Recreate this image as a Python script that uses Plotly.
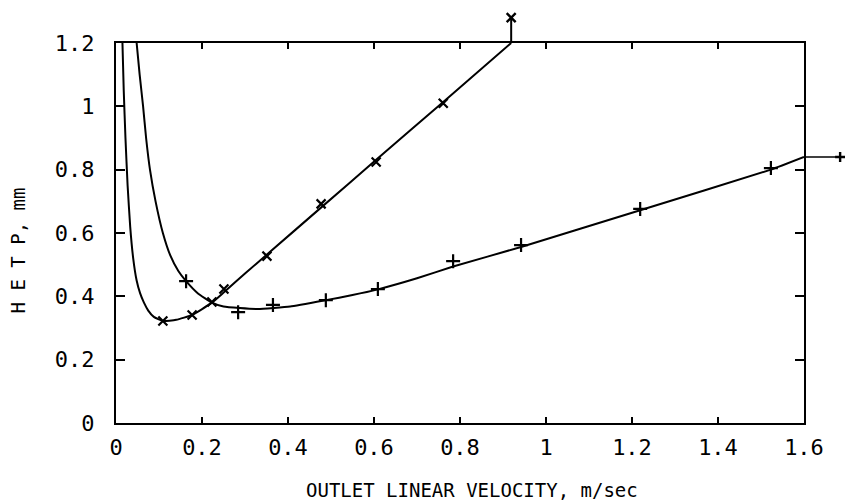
import plotly.graph_objects as go

# ---- data ----
# fitted curve, series 1 (x markers)
fit1_x = [0.015, 0.018, 0.022, 0.027, 0.033, 0.040, 0.048, 0.056, 0.065, 0.075,
          0.088, 0.109, 0.140, 0.177, 0.223, 0.251, 0.300, 0.351, 0.474, 0.605,
          0.761, 0.919]
fit1_y = [1.20, 1.05, 0.90, 0.75, 0.62, 0.52, 0.45, 0.41, 0.38, 0.355,
          0.335, 0.322, 0.326, 0.341, 0.380, 0.413, 0.472, 0.532, 0.677, 0.831,
          1.014, 1.20]
# measured points, series 1
pts1_x = [0.109, 0.177, 0.223, 0.251, 0.351, 0.477, 0.605, 0.761]
pts1_y = [0.322, 0.341, 0.382, 0.423, 0.527, 0.692, 0.824, 1.010]
# off-scale point, series 1
off1_x = [0.919]
off1_y = [1.28]

# fitted curve, series 2 (+ markers)
fit2_x = [0.048, 0.055, 0.063, 0.070, 0.079, 0.092, 0.109, 0.126, 0.145, 0.163,
          0.190, 0.223, 0.250, 0.288, 0.330, 0.405, 0.488, 0.550, 0.609, 0.700,
          0.784, 0.942, 1.219, 1.523, 1.600]
fit2_y = [1.20, 1.10, 1.00, 0.90, 0.80, 0.70, 0.60, 0.53, 0.48, 0.448,
          0.41, 0.38, 0.368, 0.363, 0.360, 0.368, 0.388, 0.404, 0.422, 0.457,
          0.494, 0.556, 0.672, 0.800, 0.840]
# measured points, series 2
pts2_x = [0.163, 0.284, 0.365, 0.488, 0.609, 0.784, 0.942, 1.219, 1.523]
pts2_y = [0.448, 0.350, 0.373, 0.388, 0.423, 0.511, 0.562, 0.676, 0.805]
# off-scale point, series 2
off2_x = [1.684]
off2_y = [0.840]

x_range = [0, 1.6]
y_range = [0, 1.2]
x_ticks = [0, 0.2, 0.4, 0.6, 0.8, 1.0, 1.2, 1.4, 1.6]
x_tick_labels = ["0", "0.2", "0.4", "0.6", "0.8", "1", "1.2", "1.4", "1.6"]
y_ticks = [0, 0.2, 0.4, 0.6, 0.8, 1.0, 1.2]
y_tick_labels = ["0", "0.2", "0.4", "0.6", "0.8", "1", "1.2"]

x_title = "OUTLET LINEAR VELOCITY, m/sec"
y_title = "H E T P, mm"

FONT = "DejaVu Sans Mono"
INK = "black"
W, H = 845, 500
M = dict(l=116, r=41, t=43, b=77)
PLOT_W = W - M["l"] - M["r"]
PLOT_H = H - M["t"] - M["b"]

fig = go.Figure()
line_style = dict(color=INK, width=2, shape="spline", smoothing=0.4)
fig.add_trace(go.Scatter(x=fit1_x, y=fit1_y, mode="lines", line=line_style, hoverinfo="skip"))
fig.add_trace(go.Scatter(x=fit2_x, y=fit2_y, mode="lines", line=line_style, hoverinfo="skip"))

mk1 = dict(symbol="x-thin", size=9, line=dict(color=INK, width=2.2), color=INK)
mk2 = dict(symbol="cross-thin", size=10, line=dict(color=INK, width=2.2), color=INK)
fig.add_trace(go.Scatter(x=pts1_x, y=pts1_y, mode="markers", marker=mk1))
fig.add_trace(go.Scatter(x=pts2_x, y=pts2_y, mode="markers", marker=mk2))


def px(v):
    return (v - x_range[0]) / (x_range[1] - x_range[0])


def py(v):
    return (v - y_range[0]) / (y_range[1] - y_range[0])


def glyph_path(xv, yv, kind, half_px):
    """Marker glyph (x or +) in paper units, for points beyond the axis range."""
    cx, cy = px(xv), py(yv)
    a, b = half_px / PLOT_W, half_px / PLOT_H
    if kind == "x":
        return (f"M {cx - a},{cy - b} L {cx + a},{cy + b} "
                f"M {cx - a},{cy + b} L {cx + a},{cy - b}")
    return (f"M {cx - a},{cy} L {cx + a},{cy} "
            f"M {cx},{cy - b} L {cx},{cy + b}")


shapes = [
    # series 1 leaves the top of the frame and goes to its off-scale point
    dict(type="line", xref="paper", yref="paper",
         x0=px(fit1_x[-1]), y0=py(fit1_y[-1]), x1=px(off1_x[0]), y1=py(off1_y[0]),
         line=dict(color=INK, width=2)),
    dict(type="path", xref="paper", yref="paper",
         path=glyph_path(off1_x[0], off1_y[0], "x", 4.5),
         line=dict(color=INK, width=2.4)),
    # series 2 leaves the right of the frame and goes to its off-scale point
    dict(type="line", xref="paper", yref="paper",
         x0=px(fit2_x[-1]), y0=py(fit2_y[-1]), x1=px(off2_x[0]), y1=py(off2_y[0]),
         line=dict(color=INK, width=1.5)),
    dict(type="path", xref="paper", yref="paper",
         path=glyph_path(off2_x[0], off2_y[0], "+", 5),
         line=dict(color=INK, width=2.4)),
]

axis_common = dict(
    showline=True, linewidth=2, linecolor=INK, mirror="ticks",
    ticks="inside", tickcolor=INK, tickwidth=1.5,
    showgrid=False, zeroline=False,
    tickfont=dict(family=FONT, size=22, color=INK),
)

title_font = dict(family=FONT, size=19, color=INK)
annotations = [
    dict(text=x_title, xref="paper", yref="paper", x=0.517, y=-0.176,
         xanchor="center", yanchor="middle", showarrow=False, font=title_font),
    dict(text=y_title, xref="paper", yref="paper", x=-0.142, y=0.455,
         xanchor="center", yanchor="middle", showarrow=False, textangle=-90,
         font=title_font),
]

fig.update_layout(
    width=W, height=H,
    margin=M,
    paper_bgcolor="white", plot_bgcolor="white",
    showlegend=False,
    shapes=shapes,
    annotations=annotations,
    xaxis=dict(range=x_range, tickvals=x_ticks, ticktext=x_tick_labels, ticklen=6,
               ticklabelstandoff=4, **axis_common),
    yaxis=dict(range=y_range, tickvals=y_ticks, ticktext=y_tick_labels, ticklen=9,
               ticklabelstandoff=15, **axis_common),
)

# let the figure fill the 845x500 window exactly (no default 8px page margin)
fig.write_html("out.html",
               config={"displayModeBar": False},
               post_script="document.body.style.margin='0';")
